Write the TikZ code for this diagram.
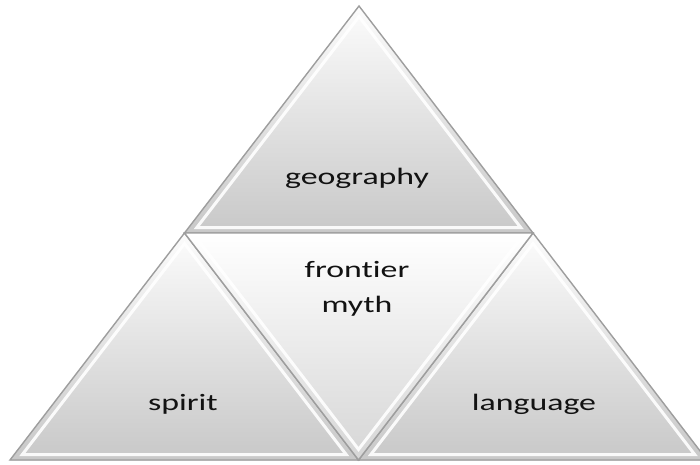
\documentclass[tikz,border=0pt]{standalone}
\usepackage{fontspec}
\setmainfont{Carlito}
\newfontfamily\tagfont[FakeStretch=1.44,Ligatures=NoCommon]{Carlito}
\usetikzlibrary{calc}
\definecolor{edgeGray}{RGB}{158,158,158}
\definecolor{faceLight}{RGB}{252,252,252}
\definecolor{faceDark}{RGB}{200,200,200}
\definecolor{midDark}{RGB}{214,214,214}
\definecolor{textInk}{RGB}{18,18,18}
\tikzset{
  facet/.style={top color=faceLight,bottom color=faceDark},
  midfacet/.style={top color=white,bottom color=midDark},
  rim/.style={draw=edgeGray,line width=1.4pt,line join=miter},
  bevel/.style={draw=white,line width=3pt,opacity=0.9,line join=miter},
  tag/.style={font=\tagfont\fontsize{23.5}{35}\selectfont,text=textInk,align=center}
}
\newcommand{\Facet}[4]{%
  \coordinate (fc) at ($(#2)!2/3!($(#3)!0.5!(#4)$)$);
  \fill[#1] (#2) -- (#3) -- (#4) -- cycle;
  \draw[bevel] ($(fc)!0.93!(#2)$) -- ($(fc)!0.93!(#3)$) -- ($(fc)!0.93!(#4)$) -- cycle;
  \draw[rim] (#2) -- (#3) -- (#4) -- cycle;
}

\begin{document}
\begin{tikzpicture}[x=1pt,y=-1pt]
\clip (0,0) rectangle (700,464);
% corners of the big triangle, then the middles of its sides
\coordinate (apex) at (359,6);
\coordinate (bl) at (10,460);
\coordinate (br) at (707,460);
\coordinate (ml) at ($(apex)!0.5!(bl)$);
\coordinate (mr) at ($(apex)!0.5!(br)$);
\coordinate (mb) at ($(bl)!0.5!(br)$);

\Facet{facet}{apex}{ml}{mr}
\Facet{facet}{ml}{bl}{mb}
\Facet{facet}{mr}{mb}{br}
\Facet{midfacet}{ml}{mr}{mb}

\node[tag] (geo) at (357,178) {geography};
\node[tag] (myth) at (357,289) {frontier\\myth};
\node[tag] (spirit) at (183,404) {spirit};
\node[tag] (lang) at (534,404) {language};
\end{tikzpicture}
\end{document}
